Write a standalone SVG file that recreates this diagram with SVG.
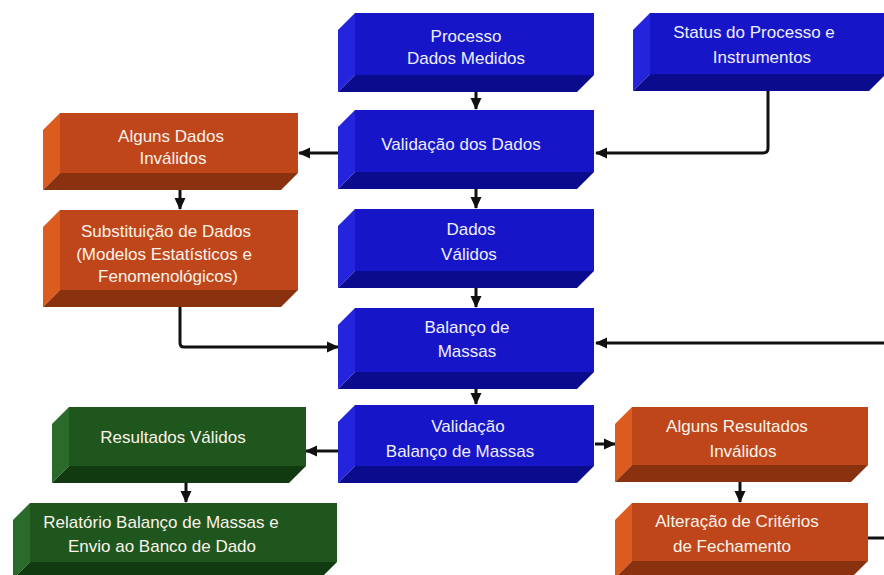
<svg xmlns="http://www.w3.org/2000/svg" width="884" height="575" viewBox="0 0 884 575">
<defs>
<style>
.bf{fill:#1616C8}.bb{fill:#0B0B8E}.bs{fill:#2424DC}
.of{fill:#BF461B}.ob{fill:#8A3110}.os{fill:#DC5B1E}
.gf{fill:#1E561E}.gb{fill:#113A11}.gs{fill:#2A6A2A}
text{font-family:"Liberation Sans",Arial,sans-serif;font-size:17px;text-anchor:middle}
.tb{fill:#EEEEFF}.tw{fill:#FBF3EA}
.c{fill:none;stroke:#111;stroke-width:3}
</style>
<marker id="ah" markerUnits="userSpaceOnUse" markerWidth="12" markerHeight="12" viewBox="0 0 12 12" refX="11" refY="6" orient="auto">
<path d="M0,0.5 L12,6 L0,11.5 Z" fill="#111"/>
</marker>
</defs>
<rect width="884" height="575" fill="#fff"/>

<g id="connectors">
<path class="c" d="M476,92 V109" marker-end="url(#ah)"/>
<path class="c" d="M476,189 V208" marker-end="url(#ah)"/>
<path class="c" d="M476,288 V307" marker-end="url(#ah)"/>
<path class="c" d="M476,389 V404" marker-end="url(#ah)"/>
<path class="c" d="M768,91 V148 Q768,153 763,153 H596" marker-end="url(#ah)"/>
<path class="c" d="M338,153 H299" marker-end="url(#ah)"/>
<path class="c" d="M180,190 V209" marker-end="url(#ah)"/>
<path class="c" d="M180,307 V343 Q180,347 184,347 H338" marker-end="url(#ah)"/>
<path class="c" d="M884,343 H596" marker-end="url(#ah)"/>
<path class="c" d="M338,451 H306" marker-end="url(#ah)"/>
<path class="c" d="M595,444 H615" marker-end="url(#ah)"/>
<path class="c" d="M186,483 V502" marker-end="url(#ah)"/>
<path class="c" d="M740,482 V502" marker-end="url(#ah)"/>
<path class="c" d="M866,538 H884"/>
</g>

<g id="processo">
<polygon class="bs" points="338,30 355,13 355,75 338,92"/>
<polygon class="bb" points="355,75 594,75 577,92 338,92"/>
<rect class="bf" x="355" y="13" width="239" height="62"/>
<text class="tb" x="466" y="42">Processo</text>
<text class="tb" x="466" y="64">Dados Medidos</text>
</g>

<g id="status">
<polygon class="bs" points="633,30 650,13 650,74 633,91"/>
<polygon class="bb" points="650,74 886,74 869,91 633,91"/>
<rect class="bf" x="650" y="13" width="236" height="61"/>
<text class="tb" x="754" y="38">Status do Processo e</text>
<text class="tb" x="762" y="63">Instrumentos</text>
</g>

<g id="validacao-dados">
<polygon class="bs" points="338,127 355,110 355,172 338,189"/>
<polygon class="bb" points="355,172 594,172 577,189 338,189"/>
<rect class="bf" x="355" y="110" width="239" height="62"/>
<text class="tb" x="461" y="150">Validação dos Dados</text>
</g>

<g id="alguns-dados-invalidos">
<polygon class="os" points="43,130 60,113 60,173 43,190"/>
<polygon class="ob" points="60,173 298,173 281,190 43,190"/>
<rect class="of" x="60" y="113" width="238" height="60"/>
<text class="tw" x="171" y="142">Alguns Dados</text>
<text class="tw" x="173" y="164">Inválidos</text>
</g>

<g id="substituicao">
<polygon class="os" points="43,227 60,210 60,290 43,307"/>
<polygon class="ob" points="60,290 298,290 281,307 43,307"/>
<rect class="of" x="60" y="210" width="238" height="80"/>
<text class="tw" x="166" y="237">Substituição de Dados</text>
<text class="tw" x="164" y="260">(Modelos Estatísticos e</text>
<text class="tw" x="168" y="282">Fenomenológicos)</text>
</g>

<g id="dados-validos">
<polygon class="bs" points="338,226 355,209 355,271 338,288"/>
<polygon class="bb" points="355,271 594,271 577,288 338,288"/>
<rect class="bf" x="355" y="209" width="239" height="62"/>
<text class="tb" x="471" y="235">Dados</text>
<text class="tb" x="469" y="260">Válidos</text>
</g>

<g id="balanco">
<polygon class="bs" points="338,325 355,308 355,372 338,389"/>
<polygon class="bb" points="355,372 594,372 577,389 338,389"/>
<rect class="bf" x="355" y="308" width="239" height="64"/>
<text class="tb" x="467" y="333">Balanço de</text>
<text class="tb" x="467" y="357">Massas</text>
</g>

<g id="validacao-balanco">
<polygon class="bs" points="338,422 355,405 355,466 338,483"/>
<polygon class="bb" points="355,466 594,466 577,483 338,483"/>
<rect class="bf" x="355" y="405" width="239" height="61"/>
<text class="tb" x="468" y="432">Validação</text>
<text class="tb" x="460" y="457">Balanço de Massas</text>
</g>

<g id="resultados-validos">
<polygon class="gs" points="52,424 69,407 69,466 52,483"/>
<polygon class="gb" points="69,466 306,466 289,483 52,483"/>
<rect class="gf" x="69" y="407" width="237" height="59"/>
<text class="tw" x="173" y="443">Resultados Válidos</text>
</g>

<g id="relatorio">
<polygon class="gs" points="13,520 30,503 30,562 13,579"/>
<polygon class="gb" points="30,562 337,562 320,579 13,579"/>
<rect class="gf" x="30" y="503" width="307" height="59"/>
<text class="tw" x="161" y="528">Relatório Balanço de Massas e</text>
<text class="tw" x="162" y="552">Envio ao Banco de Dado</text>
</g>

<g id="alguns-resultados-invalidos">
<polygon class="os" points="615,424 632,407 632,465 615,482"/>
<polygon class="ob" points="632,465 868,465 851,482 615,482"/>
<rect class="of" x="632" y="407" width="236" height="58"/>
<text class="tw" x="737" y="432">Alguns Resultados</text>
<text class="tw" x="743" y="457">Inválidos</text>
</g>

<g id="alteracao">
<polygon class="os" points="615,520 632,503 632,561 615,578"/>
<polygon class="ob" points="632,561 868,561 851,578 615,578"/>
<rect class="of" x="632" y="503" width="236" height="58"/>
<text class="tw" x="737" y="527">Alteração de Critérios</text>
<text class="tw" x="732" y="552">de Fechamento</text>
</g>
</svg>
